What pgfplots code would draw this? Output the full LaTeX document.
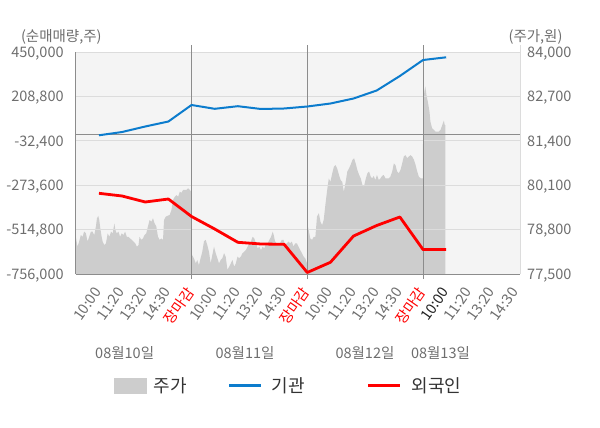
\documentclass[border=0pt]{standalone}
\usepackage{pgfplots}
\pgfplotsset{compat=1.18}
\usepackage{fontspec}
\setmainfont{Noto Sans CJK KR}
\definecolor{bgc}{HTML}{F4F4F4}
\definecolor{areac}{HTML}{CDCDCD}
\definecolor{gridc}{HTML}{DCDCDC}
\definecolor{darkc}{HTML}{8C8C8C}
\definecolor{labc}{HTML}{6E6E6E}
\definecolor{labdark}{HTML}{222222}
\definecolor{bluec}{HTML}{0C7CCD}
\definecolor{redc}{HTML}{FF0000}
\definecolor{legc}{HTML}{333333}
\newcommand\tfont{\fontsize{14.5bp}{17bp}\selectfont}
\newcommand\lfont{\fontsize{18bp}{21bp}\selectfont}
\begin{document}
\begin{tikzpicture}
\path[use as bounding box] (-75.8bp,-154bp) rectangle (524.2bp,274bp);
% ---------- price area (right axis) ----------
\begin{axis}[
  at={(0,0)}, anchor=south west,
  scale only axis, width=444.2bp, height=222bp,
  xmin=0, xmax=19.19, ymin=77500, ymax=84000,
  axis x line=none, axis y line*=right,
  y axis line style={draw=gridc,-},
  axis background/.style={fill=bgc},
  scaled y ticks=false,
  xtick=\empty,
  ytick={77500,78800,80100,81400,82700,84000},
  yticklabels={{77,500},{78,800},{80,100},{81,400},{82,700},{84,000}},
  yticklabel style={anchor=west, inner sep=0pt, xshift=7bp, yshift=-1.5bp, font=\tfont, text=labc},
  major tick length=0pt,
  clip=false,
]
\addplot[fill=areac, draw=none] table {
0 78590
0.072 78300
0.145 78450
0.217 78640
0.290 78590
0.362 78740
0.435 78690
0.507 78450
0.580 78590
0.652 78740
0.725 78740
0.797 78640
0.870 78890
0.913 79130
0.971 79200
1.014 79080
1.058 78840
1.116 78590
1.159 78450
1.232 78350
1.304 78400
1.377 78690
1.449 78590
1.522 78740
1.594 78690
1.667 78980
1.710 78790
1.768 78690
1.841 78740
1.913 78590
1.986 78690
2.058 78640
2.130 78740
2.203 78590
2.275 78590
2.348 78540
2.420 78500
2.493 78450
2.565 78400
2.638 78300
2.710 78350
2.754 78590
2.826 78500
2.899 78540
2.971 78640
3.043 78690
3.116 78890
3.188 79080
3.261 79030
3.333 79130
3.406 78980
3.478 78890
3.551 78590
3.623 78500
3.696 78540
3.768 78500
3.812 79080
3.884 79180
3.957 79200
4.058 79230
4.130 79370
4.203 79670
4.275 79760
4.348 79810
4.420 79760
4.493 79910
4.565 79880
4.638 79960
4.710 79960
4.783 79960
4.855 80010
4.928 79960
4.985 79910
5.020 78060
5.101 77960
5.188 77810
5.246 77910
5.319 77760
5.391 77960
5.464 78150
5.536 78450
5.609 78500
5.681 78350
5.754 78150
5.826 77810
5.899 78060
5.971 78300
6.043 78110
6.116 77960
6.188 77810
6.261 77910
6.333 77960
6.406 78110
6.478 78000
6.551 77620
6.623 77710
6.696 77810
6.768 77910
6.841 77710
6.913 77810
6.986 78010
7.058 77960
7.130 78010
7.203 78110
7.275 78150
7.348 78200
7.420 78300
7.493 78400
7.565 78450
7.638 78590
7.710 78540
7.783 78400
7.855 78250
7.928 78300
8.000 78200
8.072 78300
8.145 78250
8.217 78400
8.290 78400
8.362 78500
8.435 78590
8.507 78740
8.551 78640
8.609 78450
8.681 78400
8.754 78350
8.826 78400
8.899 78500
8.971 78500
9.043 78350
9.116 78400
9.188 78450
9.261 78400
9.333 78450
9.406 78300
9.478 78400
9.551 78400
9.623 78300
9.696 78200
9.768 78110
9.841 78010
9.913 77960
9.990 77810
10.02 78900
10.06 78790
10.13 78540
10.21 78500
10.28 78590
10.35 78590
10.42 79180
10.50 79280
10.57 79030
10.64 78930
10.71 79080
10.79 79570
10.86 79960
10.93 80300
11.00 80200
11.08 80450
11.15 80640
11.22 80690
11.29 80590
11.37 80400
11.44 80250
11.51 80200
11.58 79910
11.66 80200
11.73 80500
11.80 80590
11.87 80690
11.95 80840
12.02 80890
12.09 80740
12.16 80550
12.24 80400
12.31 80300
12.38 80110
12.45 80060
12.53 80300
12.60 80450
12.67 80500
12.74 80350
12.80 80300
12.87 80370
12.94 80250
13.01 80400
13.09 80250
13.16 80300
13.23 80370
13.30 80400
13.38 80300
13.45 80300
13.52 80300
13.59 80350
13.67 80500
13.74 80740
13.81 80690
13.88 80500
13.95 80450
14.03 80550
14.10 80740
14.17 80940
14.24 80980
14.32 80890
14.39 80940
14.46 80980
14.53 80940
14.61 80840
14.68 80690
14.75 80500
14.82 80350
14.90 80300
14.99 80300
15.01 82450
15.03 82690
15.07 82890
15.10 82990
15.15 82740
15.22 82500
15.28 82250
15.32 81960
15.39 81770
15.47 81720
15.54 81670
15.61 81670
15.68 81670
15.76 81720
15.83 81860
15.90 81990
15.94 81860
15.97 81860
} \closedcycle;
\end{axis}
% ---------- net buying lines (left axis) ----------
\begin{axis}[
  at={(0,0)}, anchor=south west,
  scale only axis, width=444.2bp, height=222bp,
  xmin=0, xmax=19.19, ymin=-756000, ymax=450000,
  axis x line*=bottom, axis y line*=left,
  x axis line style={draw=darkc,-, line width=1bp},
  y axis line style={draw=darkc,-, line width=1bp},
  scaled y ticks=false,
  ytick={-756000,-514800,-273600,-32400,208800,450000},
  yticklabels={{-756,000},{-514,800},{-273,600},{-32,400},{208,800},{450,000}},
  ymajorgrids=true,
  major grid style={draw=gridc, line width=1bp},
  yticklabel style={anchor=east, inner sep=0pt, xshift=-12bp, yshift=-1.5bp, font=\tfont, text=labc},
  xtick={1,...,19},
  xticklabels={10:00,11:20,13:20,14:30,\textcolor{redc}{장마감},10:00,11:20,13:20,14:30,\textcolor{redc}{장마감},10:00,11:20,13:20,14:30,\textcolor{redc}{장마감},\textcolor{labdark}{10:00},11:20,13:20,14:30},
  xticklabel style={yshift=-15bp, xshift=-1bp, rotate=55, anchor=east, inner sep=0pt, font=\tfont, text=labc},
  major tick length=0pt,
  extra x ticks={5,10,15},
  extra x tick labels={},
  extra x tick style={xmajorgrids=true, major grid style={draw=darkc, line width=1bp}, major tick length=5bp, tick align=outside, tick style={draw=darkc, line width=1bp}},
  extra y ticks={0},
  extra y tick labels={},
  extra y tick style={ymajorgrids=true, major grid style={draw=darkc, line width=1bp}},
  clip=false,
  legend columns=3,
  legend cell align=left,
  legend style={draw=none, fill=none, inner sep=0pt, at={(0.086,-0.502)}, anchor=west,
    column sep=7bp, /tikz/column 2/.style={column sep=41bp}, /tikz/column 3/.style={column sep=9bp},
    /tikz/column 4/.style={column sep=62bp}, /tikz/column 5/.style={column sep=10bp},
    nodes={inner sep=0pt, font=\lfont, text=legc}},
]
\draw[darkc, line width=1bp] (axis cs:5,450000) -- ++(0bp,7bp);
\draw[darkc, line width=1bp] (axis cs:10,450000) -- ++(0bp,7bp);
\draw[darkc, line width=1bp] (axis cs:15,450000) -- ++(0bp,7bp);
\draw[gridc, line width=1bp] (axis cs:19.19,450000) -- ++(0bp,7bp);
\addlegendimage{legend image code/.code={\fill[areac] (0bp,-7.5bp) rectangle (32bp,7.5bp);}}
\addlegendentry{주가}
\addplot[color=bluec, line width=2bp, line join=round,
  legend image code/.code={\draw[bluec, line width=3bp] (0bp,0bp) -- (32bp,0bp);}] coordinates {
(1,-2500) (2,15400) (3,45300) (4,72400) (5,162100) (6,141400) (7,155600) (8,140400)
(9,143100) (10,153900) (11,170200) (12,197400) (13,240900) (14,319600) (15,406500) (16,421200)
};
\addlegendentry{기관}
\addplot[color=redc, line width=2.8bp, line join=round,
  legend image code/.code={\draw[redc, line width=3bp] (0bp,0bp) -- (32bp,0bp);}] coordinates {
(1,-317600) (2,-332300) (3,-364900) (4,-348600) (5,-443600) (6,-511500) (7,-583800) (8,-593000)
(9,-594700) (10,-747800) (11,-692400) (12,-549600) (13,-492500) (14,-446300) (15,-622900) (16,-622900)
};
\addlegendentry{외국인}
\node[font=\tfont, text=labc] at (rel axis cs:0.110,-0.356) {08월10일};
\node[font=\tfont, text=labc] at (rel axis cs:0.381,-0.356) {08월11일};
\node[font=\tfont, text=labc] at (rel axis cs:0.651,-0.356) {08월12일};
\node[font=\tfont, text=labc] at (rel axis cs:0.821,-0.356) {08월13일};
\node[font=\tfont, text=labc] at (rel axis cs:-0.0326,1.066) {(순매매량,주)};
\node[font=\tfont, text=labc] at (rel axis cs:1.035,1.066) {(주가,원)};
\end{axis}
\end{tikzpicture}
\end{document}
